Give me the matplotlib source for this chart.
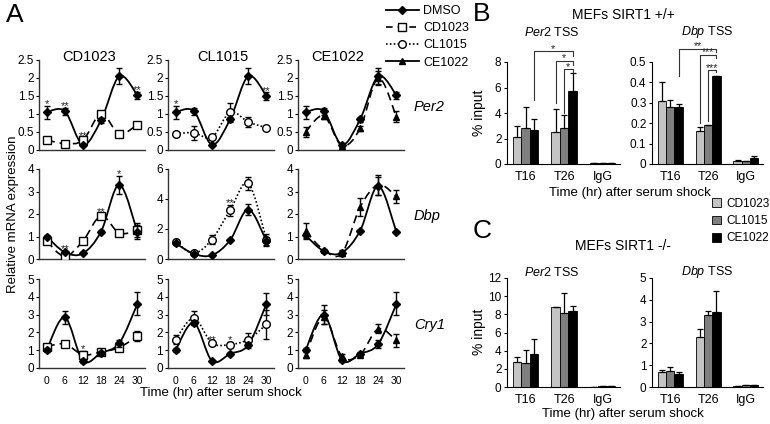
import numpy as np
import matplotlib
matplotlib.use("Agg")
import matplotlib.pyplot as plt
from matplotlib.path import Path
from matplotlib.patches import PathPatch, Patch
from matplotlib.lines import Line2D

plt.rcParams['font.family'] = ['Liberation Sans', 'DejaVu Sans']
plt.rcParams['mathtext.fontset'] = 'custom'
plt.rcParams['mathtext.rm'] = 'Liberation Sans'
plt.rcParams['mathtext.it'] = 'Liberation Sans:italic'

W, H = 770, 424

# ---------------- Panel A data ----------------
hours = [0, 6, 12, 18, 24, 30]
treatments = ["CD1023", "CL1015", "CE1022"]
genes = ["Per2", "Dbp", "Cry1"]
gene_ylims = {("CD1023", "Per2"): 2.5, ("CL1015", "Per2"): 2.5, ("CE1022", "Per2"): 2.5,
              ("CD1023", "Dbp"): 4, ("CL1015", "Dbp"): 6, ("CE1022", "Dbp"): 4,
              ("CD1023", "Cry1"): 5, ("CL1015", "Cry1"): 5, ("CE1022", "Cry1"): 5}

# CD1023 column
cd_per2_dmso = [1.05, 1.08, 0.15, 0.83, 2.05, 1.52]
cd_per2_dmso_err = [0.18, 0.10, 0.03, 0.07, 0.22, 0.10]
cd_per2_drug = [0.28, 0.18, 0.27, 1.00, 0.45, 0.70]
cd_per2_drug_err = [0.05, 0.03, 0.06, 0.08, 0.05, 0.07]
cd_dbp_dmso = [1.00, 0.30, 0.25, 1.22, 3.30, 1.20]
cd_dbp_dmso_err = [0.08, 0.05, 0.04, 0.05, 0.40, 0.30]
cd_dbp_drug = [0.80, 0.12, 0.80, 1.92, 1.15, 1.28]
cd_dbp_drug_err = [0.15, 0.08, 0.15, 0.10, 0.10, 0.30]
cd_cry1_dmso = [1.00, 2.85, 0.40, 0.85, 1.40, 3.60]
cd_cry1_dmso_err = [0.10, 0.35, 0.10, 0.10, 0.20, 0.65]
cd_cry1_drug = [1.20, 1.35, 0.75, 0.90, 1.15, 1.80]
cd_cry1_drug_err = [0.10, 0.15, 0.20, 0.10, 0.15, 0.30]

# CL1015 column
cl_per2_dmso = [1.05, 1.08, 0.15, 0.85, 2.05, 1.50]
cl_per2_dmso_err = [0.18, 0.10, 0.03, 0.07, 0.22, 0.10]
cl_per2_drug = [0.45, 0.48, 0.35, 1.05, 0.78, 0.62]
cl_per2_drug_err = [0.05, 0.20, 0.05, 0.25, 0.15, 0.03]
cl_dbp_dmso = [1.05, 0.35, 0.25, 1.25, 3.30, 1.20]
cl_dbp_dmso_err = [0.10, 0.05, 0.04, 0.08, 0.35, 0.30]
cl_dbp_drug = [1.15, 0.38, 1.30, 3.25, 5.05, 1.30]
cl_dbp_drug_err = [0.15, 0.05, 0.30, 0.35, 0.45, 0.35]
cl_cry1_dmso = [1.00, 2.55, 0.40, 0.80, 1.30, 3.60]
cl_cry1_dmso_err = [0.10, 0.15, 0.05, 0.08, 0.15, 0.60]
cl_cry1_drug = [1.60, 2.80, 1.40, 1.32, 1.60, 2.45]
cl_cry1_drug_err = [0.25, 0.40, 0.08, 0.15, 0.35, 0.80]

# CE1022 column
ce_per2_dmso = [1.05, 1.08, 0.15, 0.85, 2.05, 1.52]
ce_per2_dmso_err = [0.18, 0.10, 0.03, 0.07, 0.22, 0.10]
ce_per2_drug = [0.50, 0.95, 0.12, 0.60, 2.00, 0.92]
ce_per2_drug_err = [0.15, 0.10, 0.03, 0.08, 0.20, 0.15]
ce_dbp_dmso = [1.05, 0.35, 0.28, 1.25, 3.25, 1.20]
ce_dbp_dmso_err = [0.10, 0.05, 0.12, 0.05, 0.40, 0.05]
ce_dbp_drug = [1.25, 0.40, 0.25, 2.30, 3.30, 2.78]
ce_dbp_drug_err = [0.35, 0.05, 0.10, 0.40, 0.45, 0.30]
ce_cry1_dmso = [1.00, 3.00, 0.45, 0.80, 1.35, 3.60]
ce_cry1_dmso_err = [0.10, 0.55, 0.10, 0.08, 0.20, 0.65]
ce_cry1_drug = [0.75, 2.85, 0.65, 0.75, 2.20, 1.55]
ce_cry1_drug_err = [0.20, 0.40, 0.15, 0.08, 0.25, 0.35]

seriesA = {
    ("CD1023", "Per2"): (cd_per2_dmso, cd_per2_dmso_err, cd_per2_drug, cd_per2_drug_err),
    ("CD1023", "Dbp"): (cd_dbp_dmso, cd_dbp_dmso_err, cd_dbp_drug, cd_dbp_drug_err),
    ("CD1023", "Cry1"): (cd_cry1_dmso, cd_cry1_dmso_err, cd_cry1_drug, cd_cry1_drug_err),
    ("CL1015", "Per2"): (cl_per2_dmso, cl_per2_dmso_err, cl_per2_drug, cl_per2_drug_err),
    ("CL1015", "Dbp"): (cl_dbp_dmso, cl_dbp_dmso_err, cl_dbp_drug, cl_dbp_drug_err),
    ("CL1015", "Cry1"): (cl_cry1_dmso, cl_cry1_dmso_err, cl_cry1_drug, cl_cry1_drug_err),
    ("CE1022", "Per2"): (ce_per2_dmso, ce_per2_dmso_err, ce_per2_drug, ce_per2_drug_err),
    ("CE1022", "Dbp"): (ce_dbp_dmso, ce_dbp_dmso_err, ce_dbp_drug, ce_dbp_drug_err),
    ("CE1022", "Cry1"): (ce_cry1_dmso, ce_cry1_dmso_err, ce_cry1_drug, ce_cry1_drug_err),
}

# significance stars (treatment, gene, hour, text)
starsA = [("CD1023", "Per2", 0, "*"), ("CD1023", "Per2", 6, "**"), ("CD1023", "Per2", 12, "**"),
          ("CD1023", "Per2", 30, "**"), ("CL1015", "Per2", 0, "*"), ("CL1015", "Per2", 30, "**"),
          ("CD1023", "Dbp", 6, "**"), ("CD1023", "Dbp", 18, "**"), ("CD1023", "Dbp", 24, "*"),
          ("CL1015", "Dbp", 18, "**"), ("CD1023", "Cry1", 12, "*"),
          ("CL1015", "Cry1", 12, "**"), ("CL1015", "Cry1", 18, "*")]

# ---------------- Panels B/C data ----------------
groups = ["T16", "T26", "IgG"]
bar_series = ["CD1023", "CL1015", "CE1022"]
bar_colors = ["#c4c4c4", "#7f7f7f", "#000000"]

b_per2 = [[2.1, 2.5, 0.05], [2.8, 2.8, 0.05], [2.65, 5.75, 0.05]]
b_per2_err = [[0.9, 1.8, 0.0], [1.7, 1.05, 0.0], [0.85, 1.35, 0.0]]
b_dbp = [[0.31, 0.16, 0.015], [0.28, 0.19, 0.013], [0.28, 0.43, 0.027]]
b_dbp_err = [[0.09, 0.022, 0.004], [0.032, 0.003, 0.003], [0.015, 0.003, 0.01]]
c_per2 = [[2.8, 8.8, 0.05], [2.6, 8.2, 0.07], [3.6, 8.4, 0.1]]
c_per2_err = [[0.45, 0.05, 0.0], [1.5, 2.2, 0.0], [1.7, 0.5, 0.0]]
c_dbp = [[0.7, 2.3, 0.04], [0.75, 3.28, 0.07], [0.6, 3.42, 0.1]]
c_dbp_err = [[0.1, 0.35, 0.0], [0.17, 0.22, 0.0], [0.1, 0.98, 0.0]]

fig = plt.figure(figsize=(W / 100, H / 100), dpi=100)


def px_axes(l, t, r, b):
    return fig.add_axes([l / W, 1 - b / H, (r - l) / W, (b - t) / H])


def smooth_path(x, y):
    pts = np.column_stack([x, y]).astype(float)
    P = np.vstack([pts[0], pts, pts[-1]])
    verts = [pts[0]]
    codes = [Path.MOVETO]
    for i in range(1, len(P) - 2):
        p0, p1, p2, p3 = P[i - 1], P[i], P[i + 1], P[i + 2]
        verts += [p1 + (p2 - p0) / 6, p2 - (p3 - p1) / 6, p2]
        codes += [Path.CURVE4] * 3
    return Path(verts, codes)


def star(ax, x, y, txt, dy=-0.5, fs=8):
    ax.annotate(txt, (x, y), xytext=(0, dy), textcoords="offset points", ha="center",
                va="baseline", fontsize=fs, color="#222222", annotation_clip=False)


drug_style = {
    "CD1023": dict(marker="s", mfc="white", mec="black", ms=5.2, ls=(0, (5, 3))),
    "CL1015": dict(marker="o", mfc="white", mec="black", ms=5.5, ls=(0, (1, 1.3))),
    "CE1022": dict(marker="^", mfc="black", mec="black", ms=5, ls=(0, (5, 3))),
}

col_left = [39, 168, 298]
row_tb = [(60, 150), (169, 259), (279, 368)]
col_title_x = [89, 223, 338]

for ci, tr in enumerate(treatments):
    for ri, g in enumerate(genes):
        t, b = row_tb[ri]
        ax = px_axes(col_left[ci], t, col_left[ci] + 106, b)
        dm, dme, dr, dre = seriesA[(tr, g)]
        st = drug_style[tr]
        ax.add_patch(PathPatch(smooth_path(hours, dm), fill=False, lw=1.3, ec="black", zorder=2))
        ax.add_patch(PathPatch(smooth_path(hours, dr), fill=False, lw=1.2, ec="black",
                               ls=st["ls"], zorder=2))
        ax.errorbar(hours, dm, yerr=dme, fmt="D", ms=3.6, color="black", ecolor="black",
                    elinewidth=1, capsize=2.2, capthick=1, zorder=4)
        ax.errorbar(hours, dr, yerr=dre, fmt=st["marker"], ms=st["ms"], mfc=st["mfc"],
                    mec=st["mec"], mew=1, ecolor="black", elinewidth=1, capsize=2.2,
                    capthick=1, zorder=3)
        ymax = gene_ylims[(tr, g)]
        ax.set_xlim(-2.5, 32.5)
        ax.set_ylim(0, ymax)
        for s in ("top", "right"):
            ax.spines[s].set_visible(False)
        ax.spines["left"].set_color("#333333")
        ax.spines["bottom"].set_color("#333333")
        ax.spines["bottom"].set_linewidth(1)
        ax.spines["left"].set_linewidth(1)
        if ymax == 2.5:
            ax.set_yticks([0, 0.5, 1, 1.5, 2, 2.5])
            ax.set_yticklabels(["0", "0.5", "1", "1.5", "2", "2.5"])
        elif ymax == 6:
            ax.set_yticks([0, 2, 4, 6])
        else:
            ax.set_yticks(np.arange(0, ymax + 1))
        ax.tick_params(axis="y", length=2.5, width=0.8, labelsize=8.5, pad=1)
        ax.set_xticks(hours)
        if ri == 2:
            ax.tick_params(axis="x", length=0, labelsize=7.5, pad=6)
        else:
            ax.tick_params(axis="x", length=0, labelbottom=False)
        for (str_, sg, sh, txt) in starsA:
            if str_ == tr and sg == g:
                k = hours.index(sh)
                top = max(dm[k] + dme[k], dr[k] + dre[k])
                star(ax, sh, top, txt, dy=-1.0, fs=8)
        if ri == 0:
            fig.text(col_title_x[ci] / W, 1 - 57 / H, tr, ha="center", va="center", fontsize=10.5)
        if ci == 2:
            fig.text(414 / W, 1 - ((t + b) / 2 + 2) / H, g, ha="left", va="center",
                     fontsize=10.5, style="italic")

fig.text(6 / W, 1 - 3 / H, "A", ha="left", va="top", fontsize=19)
fig.text(13 / W, 1 - 214 / H, "Relative mRNA expression", rotation=90, ha="center",
         va="center", fontsize=9.5)
fig.text(221 / W, 1 - 393 / H, "Time (hr) after serum shock", ha="center", va="center",
         fontsize=9.5)

legend_handles = [
    Line2D([], [], color="black", lw=1.3, marker="D", ms=3.6),
    Line2D([], [], color="black", lw=1.2, ls=(0, (4, 3)), marker="s", mfc="white", ms=5.2),
    Line2D([], [], color="black", lw=1.2, ls=(0, (1, 1.3)), marker="o", mfc="white", ms=5.5),
    Line2D([], [], color="black", lw=1.3, marker="^", ms=5),
]
fig.legend(legend_handles, ["DMSO", "CD1023", "CL1015", "CE1022"], loc="upper left",
           bbox_to_anchor=(381 / W, 1 - 0 / H), frameon=False, fontsize=9,
           handlelength=2.6, handletextpad=0.4, labelspacing=0.42, borderaxespad=0.0)

# ---------------- Panels B and C ----------------
xg = np.arange(len(groups))
bw = 0.22


def bar_panel(ax, vals, errs, ymax, yticks, yticklabels):
    for si in range(3):
        xs = xg + (si - 1) * bw
        ax.bar(xs, vals[si], width=bw, color=bar_colors[si], edgecolor="black", lw=0.6,
               zorder=2)
        ax.errorbar(xs, vals[si], yerr=[np.zeros(3), errs[si]], fmt="none", ecolor="black",
                    elinewidth=0.9, capsize=2.2, capthick=0.9, zorder=3)
    ax.set_xlim(-0.48, 2.45)
    ax.set_ylim(0, ymax)
    ax.set_xticks(xg)
    ax.set_xticklabels(groups)
    ax.set_yticks(yticks)
    ax.set_yticklabels(yticklabels)
    for s in ("top", "right"):
        ax.spines[s].set_visible(False)
    ax.tick_params(axis="x", length=0, labelsize=9, pad=5)
    ax.tick_params(axis="y", length=2.5, width=0.8, labelsize=8.5, pad=1.5)


axB1 = px_axes(507, 62, 620, 164)
bar_panel(axB1, b_per2, b_per2_err, 8, [0, 2, 4, 6, 8], ["0", "2", "4", "6", "8"])
axB2 = px_axes(652, 62, 763, 164)
bar_panel(axB2, b_dbp, b_dbp_err, 0.5, [0, 0.1, 0.2, 0.3, 0.4, 0.5],
          ["0", "0.1", "0.2", "0.3", "0.4", "0.5"])
axC1 = px_axes(507, 278, 620, 387)
bar_panel(axC1, c_per2, c_per2_err, 12, [0, 2, 4, 6, 8, 10, 12],
          ["0", "2", "4", "6", "8", "10", "12"])
axC2 = px_axes(652, 278, 763, 387)
bar_panel(axC2, c_dbp, c_dbp_err, 5, [0, 1, 2, 3, 4, 5], ["0", "1", "2", "3", "4", "5"])


def bracket(ax, x0, x1, ytop, y0, y1, txt):
    ax.plot([x0, x0, x1, x1], [y0, ytop, ytop, y1], color="#333333", lw=0.8, clip_on=False,
            zorder=5)
    star(ax, (x0 + x1) / 2, ytop, txt, dy=-0.5, fs=7.5)


bracket(axB1, 0.22, 1.22, 8.85, 5.0, 8.5, "*")
bracket(axB1, 0.78, 1.22, 8.1, 4.8, 7.8, "*")
bracket(axB1, 1.0, 1.22, 7.45, 4.0, 7.2, "*")
bracket(axB2, 0.22, 1.22, 0.565, 0.43, 0.55, "**")
bracket(axB2, 0.78, 1.22, 0.535, 0.2, 0.52, "***")
bracket(axB2, 1.0, 1.22, 0.46, 0.21, 0.45, "***")

fig.text(473 / W, 1 - 2 / H, "B", ha="left", va="top", fontsize=19)
fig.text(473 / W, 1 - 219 / H, "C", ha="left", va="top", fontsize=19)
fig.text(623 / W, 1 - 15 / H, "MEFs SIRT1 +/+", ha="center", va="center", fontsize=10)
fig.text(623 / W, 1 - 246 / H, "MEFs SIRT1 -/-", ha="center", va="center", fontsize=10)
for (xx, yy, gname) in [(552, 32, "Per2"), (707, 32, "Dbp"), (552, 272, "Per2"),
                        (707, 272, "Dbp")]:
    fig.text(xx / W, 1 - yy / H, r"$\it{" + gname + "}$ TSS", ha="center", va="center",
             fontsize=9)
fig.text(630 / W, 1 - 193 / H, "Time (hr) after serum shock", ha="center", va="center",
         fontsize=9.5)
fig.text(623 / W, 1 - 414 / H, "Time (hr) after serum shock", ha="center", va="center",
         fontsize=9.5)
fig.text(479 / W, 1 - 113 / H, "% input", rotation=90, ha="center", va="center", fontsize=10)
fig.text(479 / W, 1 - 332 / H, "% input", rotation=90, ha="center", va="center", fontsize=10)

bar_handles = [Patch(facecolor=c, edgecolor="black", lw=0.6) for c in bar_colors]
fig.legend(bar_handles, bar_series, loc="upper left", bbox_to_anchor=(707 / W, 1 - 193 / H),
           frameon=False, fontsize=8.5, handlelength=0.75, handleheight=0.75,
           handletextpad=0.5, labelspacing=0.45, borderaxespad=0.0)

fig.savefig("out.png", dpi=100)
